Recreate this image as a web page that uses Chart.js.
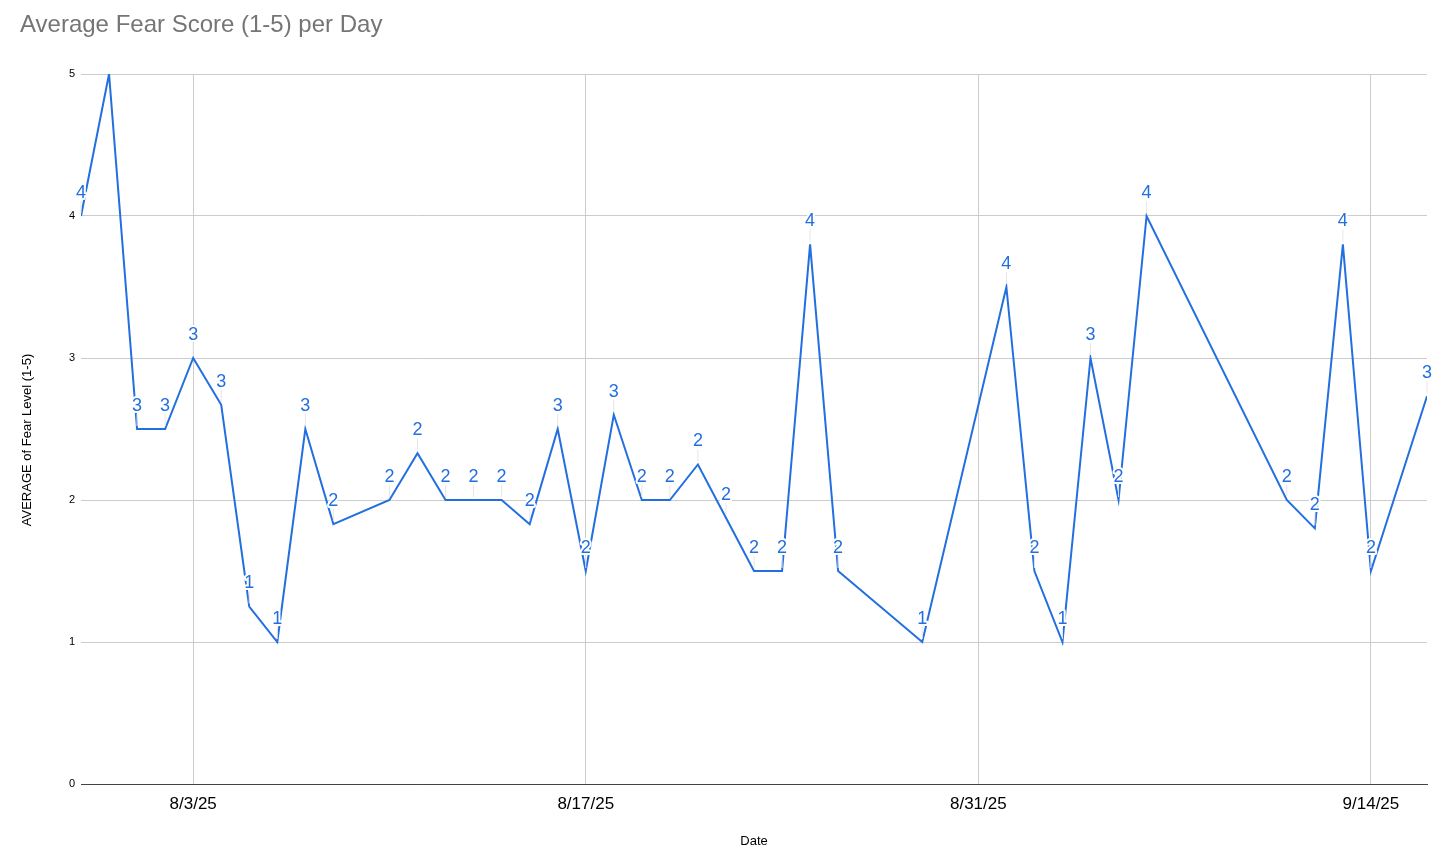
<!DOCTYPE html>
<html><head><meta charset="utf-8">
<script src="https://cdn.jsdelivr.net/npm/chart.js@4.4.0/dist/chart.umd.min.js"></script>
<style>html,body{margin:0;padding:0;background:#fff;} #wrap{width:1456px;height:865px;position:relative;}</style>
</head><body><div id="wrap"><canvas id="c"></canvas></div>
<script>
const dates = ['7/30/25','7/31/25','8/1/25','8/2/25','8/3/25','8/4/25','8/5/25','8/6/25','8/7/25','8/8/25','8/10/25','8/11/25','8/12/25','8/13/25','8/14/25','8/15/25','8/16/25','8/17/25','8/18/25','8/19/25','8/20/25','8/21/25','8/22/25','8/23/25','8/24/25','8/25/25','8/26/25','8/29/25','9/1/25','9/2/25','9/3/25','9/4/25','9/5/25','9/6/25','9/11/25','9/12/25','9/13/25','9/14/25','9/16/25'];
const fearValues = [4, 5, 2.5, 2.5, 3, 2.67, 1.25, 1, 2.5, 1.83, 2, 2.33, 2, 2, 2, 1.83, 2.5, 1.5, 2.6, 2, 2, 2.25, 1.875, 1.5, 1.5, 3.8, 1.5, 1, 3.5, 1.5, 1, 3, 2, 4, 2, 1.8, 3.8, 1.5, 2.73];
const xTickDates = ['8/3/25','8/17/25','8/31/25','9/14/25'];
const yTickValues = [0, 1, 2, 3, 4, 5];
const startDate = '7/30/25';
const endDate = '9/16/25';
const yAxisTitle = 'AVERAGE of Fear Level (1-5)';

const FONT = "'Liberation Sans', Arial, sans-serif";
const BLUE = '#236fe0';

function dayIndex(s) {
  const [m, d, y] = s.split('/').map(Number);
  const [m0, d0, y0] = startDate.split('/').map(Number);
  return Math.round((Date.UTC(2000 + y, m - 1, d) - Date.UTC(2000 + y0, m0 - 1, d0)) / 86400000);
}

const dataLabels = {
  id: 'dataLabels',
  afterDatasetsDraw(chart) {
    const ctx = chart.ctx;
    const meta = chart.getDatasetMeta(0);
    const area = chart.chartArea;
    ctx.save();
    ctx.font = '18px ' + FONT;
    ctx.textAlign = 'center';
    ctx.textBaseline = 'middle';
    meta.data.forEach((pt, i) => {
      const ly = pt.y - 23;
      if (ly < area.top) return;
      ctx.strokeStyle = '#e6e6e6';
      ctx.lineWidth = 1;
      ctx.beginPath();
      ctx.moveTo(pt.x, pt.y - 3);
      ctx.lineTo(pt.x, ly + 8);
      ctx.stroke();
      const txt = String(Math.round(fearValues[i]));
      ctx.lineWidth = 4;
      ctx.lineJoin = 'round';
      ctx.strokeStyle = '#ffffff';
      ctx.strokeText(txt, pt.x, ly);
      ctx.fillStyle = BLUE;
      ctx.fillText(txt, pt.x, ly);
    });
    ctx.restore();
  }
};

const yTitlePlugin = {
  id: 'yTitlePlugin',
  afterDraw(chart) {
    const ctx = chart.ctx;
    ctx.save();
    ctx.translate(27, 440);
    ctx.rotate(-Math.PI / 2);
    ctx.font = '13px ' + FONT;
    ctx.fillStyle = '#000';
    ctx.textAlign = 'center';
    ctx.textBaseline = 'middle';
    ctx.fillText(yAxisTitle, 0, 0);
    ctx.restore();
  }
};

new Chart(document.getElementById('c'), {
  type: 'line',
  data: {
    datasets: [{
      data: dates.map((d, i) => ({ x: dayIndex(d), y: fearValues[i] })),
      borderColor: BLUE,
      borderWidth: 2,
      pointRadius: 0,
      tension: 0,
      fill: false
    }]
  },
  options: {
    responsive: true,
    maintainAspectRatio: false,
    animation: false,
    layout: { padding: { left: 20, right: 29, top: 0, bottom: 0 } },
    plugins: {
      legend: { display: false },
      tooltip: { enabled: false },
      title: {
        display: true,
        text: 'Average Fear Score (1-5) per Day',
        align: 'start',
        color: '#757575',
        font: { family: FONT, size: 24, weight: 'normal' },
        padding: { top: 11, bottom: 34.2 }
      }
    },
    scales: {
      x: {
        type: 'linear',
        min: dayIndex(startDate),
        max: dayIndex(endDate),
        afterBuildTicks(scale) { scale.ticks = xTickDates.map(d => ({ value: dayIndex(d) })); },
        afterFit(scale) { scale.height = 81; },
        ticks: {
          autoSkip: false, maxRotation: 0, padding: 10, color: '#000',
          font: { family: FONT, size: 17 },
          callback(v) { const i = xTickDates.findIndex(d => dayIndex(d) === v); return i >= 0 ? xTickDates[i] : ''; }
        },
        grid: { color: '#cccccc', lineWidth: 1, drawTicks: false },
        border: { display: true, color: '#444444', width: 1 },
        title: { display: true, text: 'Date', color: '#000', font: { family: FONT, size: 13 }, padding: { top: 0, bottom: 16 } }
      },
      y: {
        min: 0,
        max: 5,
        afterBuildTicks(scale) { scale.ticks = yTickValues.map(v => ({ value: v })); },
        afterFit(scale) { scale.width = 61; },
        ticks: { padding: 6, color: '#000', font: { family: FONT, size: 11 } },
        grid: { color: c => (c.tick && c.tick.value === 0 ? '#444444' : '#cccccc'), lineWidth: 1, drawTicks: false },
        border: { display: false },
        title: { display: false }
      }
    }
  },
  plugins: [dataLabels, yTitlePlugin]
});
</script></body></html>
